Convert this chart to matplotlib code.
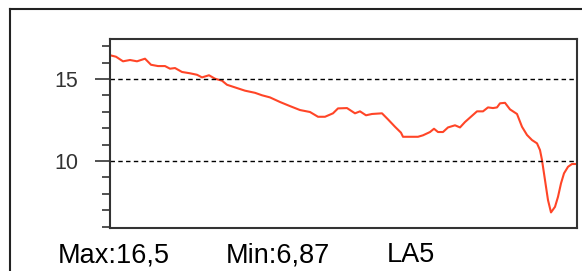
import matplotlib
matplotlib.use("Agg")
import matplotlib.pyplot as plt
from matplotlib.lines import Line2D

plt.rcParams['font.family'] = ['Liberation Sans', 'DejaVu Sans']
plt.rcParams['lines.scale_dashes'] = False

# position along the trace (arbitrary units) and the measured value
pos = [0, 6, 13, 20, 27, 35, 41, 48, 55, 60, 65, 72, 80, 87, 92, 99, 105,
       112, 117, 125, 135, 145, 152, 160, 170, 180, 190, 200, 208, 215, 223,
       228, 237, 245, 250, 256, 262, 272, 278, 285, 291, 293, 308, 313, 320,
       324, 328, 333, 338, 345, 350, 355, 367, 373, 378, 383, 387, 390, 395,
       400, 407, 412, 417, 422, 427, 430, 432, 435, 438, 441, 445, 448, 451,
       454, 458, 462, 466]
vals = [16.45, 16.36, 16.08, 16.16, 16.08, 16.24, 15.87, 15.79, 15.79, 15.63,
        15.67, 15.43, 15.35, 15.26, 15.10, 15.23, 15.02, 14.90, 14.65, 14.49,
        14.29, 14.16, 14.01, 13.88, 13.60, 13.35, 13.11, 12.99, 12.70, 12.70,
        12.91, 13.21, 13.23, 12.91, 13.03, 12.79, 12.87, 12.91, 12.54, 12.09,
        11.73, 11.48, 11.48, 11.57, 11.77, 11.97, 11.77, 11.77, 12.05, 12.18,
        12.05, 12.38, 13.03, 13.03, 13.27, 13.23, 13.27, 13.52, 13.55, 13.15,
        12.87, 12.09, 11.59, 11.28, 11.08, 10.67, 10.06, 8.84, 7.62, 6.87,
        7.21, 7.82, 8.64, 9.25, 9.65, 9.82, 9.82]

label_max = "Max:16,5"
label_min = "Min:6,87"
label_name = "LA5"

fig = plt.figure(figsize=(5.82, 2.71), dpi=100)
ax = fig.add_axes([110/582, 43/271, 467/582, 189/271])

ax.plot(pos, vals, color='#ff4527', lw=1.5)
for y in (10, 15):
    ax.axhline(y, color='black', lw=1.0, dashes=(3.2, 2.4))

ax.set_xlim(0, 467)
ax.set_ylim(5.92, 17.44)
ax.set_xticks([])
ax.set_yticks([10, 15])
ax.set_yticks(range(6, 18), minor=True)
ax.tick_params(axis='y', which='major', length=11, width=1.1, pad=12,
               labelsize=15.5, labelcolor='#333333', color='#222222')
ax.tick_params(axis='y', which='minor', length=5.5, width=1.1, color='#222222')
for s in ax.spines.values():
    s.set_linewidth(1.5)
    s.set_color('#333333')

# outer frame (runs off the right and bottom edges)
fig.add_artist(Line2D([9.5/582, 9.5/582], [0, 1 - 8.5/271],
                      transform=fig.transFigure, color='#222222', lw=1.5))
fig.add_artist(Line2D([9.5/582, 1], [1 - 8.5/271, 1 - 8.5/271],
                      transform=fig.transFigure, color='#222222', lw=1.5))

fig.text(58/582, 9/271, label_max, fontsize=19.5, va='baseline')
fig.text(226/582, 9/271, label_min, fontsize=19.5, va='baseline')
fig.text(387/582, 9/271, label_name, fontsize=19.5, va='baseline')

fig.savefig('out.png', dpi=100)
